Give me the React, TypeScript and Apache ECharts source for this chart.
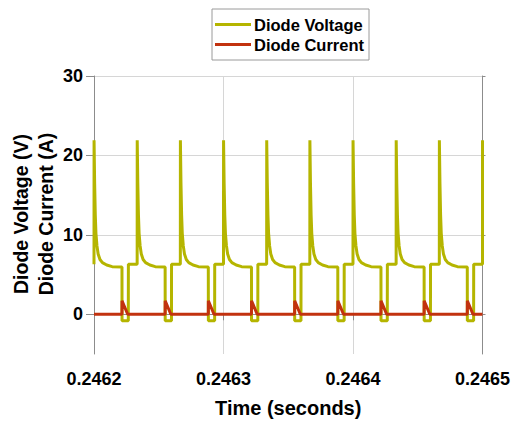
import React, { useEffect, useRef } from "react";
import * as echarts from "echarts";

// Axis ranges and ticks
const X_MIN = 0.2462;
const X_MAX = 0.2465;
const X_STEP = 0.0001;
const Y_MIN = -5;
const Y_MAX = 30;
const yTickValues = [0, 10, 20, 30];

// Start time (s) of each switching cycle
const pulseStarts = [
  0.2462, 0.24623333, 0.24626667, 0.2463, 0.24633333, 0.24636667, 0.2464,
  0.24643333, 0.24646667,
];

// One cycle of the diode voltage: offsets from cycle start (µs) and values (V)
const voltageOffsetsUs = [0, 0.05, 0.5, 1.0, 1.5, 2.3, 3.2, 4.6, 6.5, 9.8, 14, 21.6, 21.65, 26.5, 26.55];
const voltageValues = [6.3, 21.9, 16.5, 12.5, 10.2, 8.6, 7.6, 6.9, 6.5, 6.2, 6.0, 5.95, -0.8, -0.8, 6.3];
// Trailing edge at the end of the window
const voltageTailTimes = [0.2465, 0.2465];
const voltageTailValues = [6.3, 21.9];

// One cycle of the diode current: offsets (µs) and values (A)
const currentOffsetsUs = [0, 21.6, 21.65, 26.0];
const currentValues = [0, 0, 1.7, 0];
const currentTailTimes = [0.2465];
const currentTailValues = [0];

function buildSeries(offsets: number[], values: number[], tailT: number[], tailV: number[]) {
  const pts: [number, number][] = [];
  pulseStarts.forEach((s) => {
    offsets.forEach((o, i) => pts.push([s + o * 1e-6, values[i]]));
  });
  tailT.forEach((t, i) => pts.push([t, tailV[i]]));
  return pts;
}

const FONT = "Liberation Sans, Arial, sans-serif";

export default function App() {
  const ref = useRef<HTMLDivElement>(null);
  useEffect(() => {
    document.body.style.margin = "0";
    if (!ref.current) return;
    const chart = echarts.init(ref.current, null, { renderer: "svg" });
    const voltage = buildSeries(voltageOffsetsUs, voltageValues, voltageTailTimes, voltageTailValues);
    const current = buildSeries(currentOffsetsUs, currentValues, currentTailTimes, currentTailValues);
    chart.setOption({
      animation: false,
      backgroundColor: "#ffffff",
      grid: { left: 94, right: 29, top: 76, bottom: 66, containLabel: false },
      legend: {
        orient: "vertical",
        left: 212,
        top: 9,
        padding: [7, 5, 7, 3],
        itemGap: 3,
        itemWidth: 36,
        itemHeight: 3,
        icon: "rect",
        borderColor: "#9a9a9a",
        borderWidth: 1,
        textStyle: { fontSize: 16.5, fontWeight: "bold", color: "#000", fontFamily: FONT, lineHeight: 16, padding: [0, 0, 0, -2] },
        data: ["Diode Voltage", "Diode Current"],
      },
      xAxis: {
        type: "value",
        min: X_MIN,
        max: X_MAX,
        interval: X_STEP,
        name: "Time (seconds)",
        nameLocation: "middle",
        nameGap: 44,
        nameTextStyle: { fontSize: 20, fontWeight: "bold", color: "#000", fontFamily: FONT },
        axisLine: { show: true, lineStyle: { color: "#8c8c8c", width: 1 } },
        axisTick: { show: true, length: 6, lineStyle: { color: "#8c8c8c" } },
        axisLabel: {
          margin: 16,
          fontSize: 18,
          fontWeight: "bold",
          color: "#000",
          fontFamily: FONT,
          formatter: (v: number) => v.toFixed(4),
        },
        splitLine: { show: true, lineStyle: { color: "#d6d6d6", width: 1 } },
      },
      yAxis: [
        {
          type: "value",
          min: Y_MIN,
          max: Y_MAX,
          axisLine: { show: true, lineStyle: { color: "#8c8c8c", width: 1 } },
          axisTick: { show: true, length: 8, customValues: yTickValues, lineStyle: { color: "#8c8c8c" } },
          axisLabel: {
            customValues: yTickValues,
            margin: 11,
            fontSize: 18,
            fontWeight: "bold",
            color: "#000",
            fontFamily: FONT,
          },
          splitLine: { show: true, lineStyle: { color: "#d6d6d6", width: 1 } },
        },
        {
          type: "value",
          position: "right",
          min: Y_MIN,
          max: Y_MAX,
          axisLine: { show: true, lineStyle: { color: "#8c8c8c", width: 1 } },
          axisTick: { show: true, length: 3, customValues: yTickValues, lineStyle: { color: "#8c8c8c" } },
          axisLabel: { show: false, customValues: yTickValues },
          splitLine: { show: false },
        },
      ],
      graphic: [
        {
          type: "text",
          x: 33,
          y: 214,
          rotation: Math.PI / 2,
          style: {
            text: "Diode Voltage (V)\nDiode Current (A)",
            fontSize: 19.5,
            fontWeight: "bold",
            fontFamily: FONT,
            lineHeight: 25,
            fill: "#000",
            align: "center",
            verticalAlign: "middle",
          },
        },
      ],
      series: [
        {
          name: "Diode Voltage",
          type: "line",
          data: voltage,
          showSymbol: false,
          color: "#b5b500",
          lineStyle: { color: "#b5b500", width: 3 },
          z: 2,
        },
        {
          name: "Diode Current",
          type: "line",
          data: current,
          showSymbol: false,
          color: "#c2320f",
          lineStyle: { color: "#c2320f", width: 3 },
          z: 3,
        },
      ],
    });
    return () => chart.dispose();
  }, []);
  return <div ref={ref} style={{ width: 513, height: 423 }} />;
}
